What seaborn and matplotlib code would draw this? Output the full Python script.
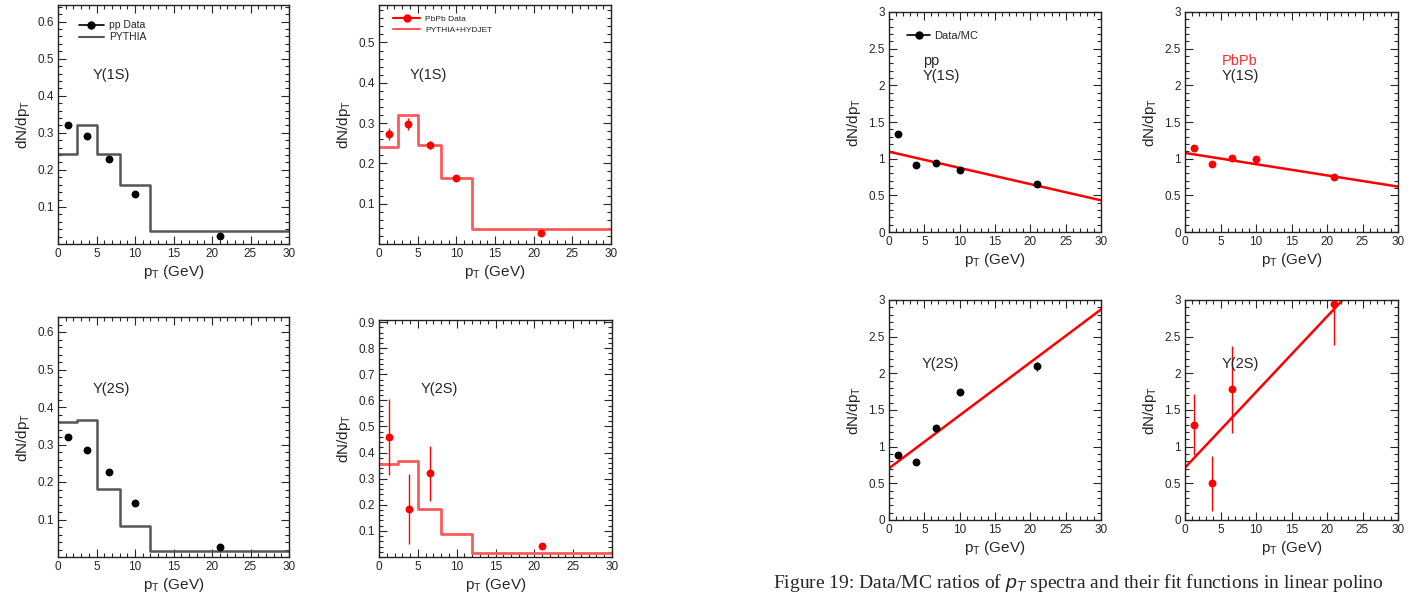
import numpy as np
import pandas as pd
import matplotlib
matplotlib.use("Agg")
import matplotlib.pyplot as plt
from matplotlib.lines import Line2D
from matplotlib.ticker import MultipleLocator, FixedLocator
import seaborn as sns

sns.set_theme(style="ticks")
plt.rcParams["font.family"] = ["Liberation Sans", "DejaVu Sans"]
plt.rcParams["mathtext.fontset"] = "custom"
plt.rcParams["mathtext.rm"] = "Liberation Sans"
plt.rcParams["mathtext.it"] = "Liberation Sans:italic"

# --- data ---
pt_points = [1.3, 3.8, 6.6, 10.0, 21.0]
pt_edges = [0, 2.5, 5, 8, 12, 30]

# spectra (left block)
pp_1s = [0.321, 0.291, 0.229, 0.135, 0.022]
pythia_1s = [0.242, 0.321, 0.243, 0.158, 0.035]
pbpb_1s = [0.272, 0.298, 0.245, 0.163, 0.028]
pbpb_1s_err = [0.015, 0.015, 0.010, 0.006, 0.004]
hydjet_1s = [0.240, 0.321, 0.245, 0.164, 0.038]

pp_2s = [0.320, 0.286, 0.226, 0.143, 0.027]
pythia_2s = [0.359, 0.366, 0.182, 0.082, 0.015]
pbpb_2s = [0.460, 0.183, 0.320, np.nan, 0.042]
pbpb_2s_err = [0.147, 0.135, 0.105, np.nan, 0.004]
hydjet_2s = [0.356, 0.367, 0.183, 0.090, 0.017]

# Data/MC ratios (right block) and linear fit parameters (p0, p1)
ratio_pp_1s = [1.332, 0.910, 0.940, 0.850, 0.650]
ratio_pp_1s_err = [0.02, 0.02, 0.02, 0.02, 0.02]
fit_pp_1s = (1.095, -0.0221)
ratio_pbpb_1s = [1.142, 0.924, 1.010, 0.990, 0.750]
ratio_pbpb_1s_err = [0.04, 0.02, 0.02, 0.02, 0.02]
fit_pbpb_1s = (1.078, -0.0153)
ratio_pp_2s = [0.890, 0.786, 1.260, 1.740, 2.095]
ratio_pp_2s_err = [0.02, 0.02, 0.03, 0.04, 0.06]
fit_pp_2s = (0.705, 0.0722)
ratio_pbpb_2s = [1.30, 0.50, 1.78, np.nan, 2.94]
ratio_pbpb_2s_err = [0.415, 0.375, 0.59, np.nan, 0.56]
fit_pbpb_2s = (0.714, 0.103)

caption = r"Figure 19: Data/MC ratios of $p_T$ spectra and their fit functions in linear polino"

W, H = 1410, 597
RED = "#ff0000"
HRED = "#ff5a5a"
GREY = "#555555"

fig = plt.figure(figsize=(W / 100, H / 100), dpi=100)


def add_ax(x0, y0, x1, y1):
    # pixel box -> figure fraction
    return fig.add_axes([x0 / W, 1 - y1 / H, (x1 - x0) / W, (y1 - y0) / H])


def style(ax, ymax, ymajor, yminor, show_zero):
    ax.set_xlim(0, 30)
    ax.set_ylim(0, ymax)
    ax.xaxis.set_major_locator(MultipleLocator(5))
    ax.xaxis.set_minor_locator(MultipleLocator(1))
    if show_zero:
        ax.yaxis.set_major_locator(MultipleLocator(ymajor))
    else:
        ticks = np.arange(ymajor, ymax, ymajor)
        ax.yaxis.set_major_locator(FixedLocator(ticks))
    ax.yaxis.set_minor_locator(MultipleLocator(yminor))
    ax.yaxis.set_major_formatter(matplotlib.ticker.FuncFormatter(lambda v, p: f"{v:g}"))
    ax.tick_params(which="both", direction="in", top=True, right=True,
                   labelsize=8.5, width=0.8, pad=3)
    ax.tick_params(which="major", length=6)
    ax.tick_params(which="minor", length=3)
    for s in ax.spines.values():
        s.set_linewidth(1.0)
        s.set_color("#222222")
    ax.set_xlabel(r"p$_\mathregular{T}$ (GeV)", fontsize=11, labelpad=2)
    ax.set_ylabel(r"dN/dp$_\mathregular{T}$", fontsize=11, labelpad=4)


def points(ax, y, err, color):
    df = pd.DataFrame({"pt": pt_points, "y": y, "err": err}).dropna()
    ax.errorbar(df["pt"], df["y"], yerr=df["err"], fmt="none",
                ecolor=color, elinewidth=1.0, capsize=0)
    sns.scatterplot(data=df, x="pt", y="y", ax=ax, color=color, s=32,
                    edgecolor=color, linewidth=0, zorder=5)


def hist(ax, vals, color, lw):
    sns.lineplot(x=pt_edges, y=list(vals) + [vals[-1]], ax=ax, color=color,
                 lw=lw, drawstyle="steps-post", estimator=None, sort=False)


def fit(ax, par):
    xs = [0, 30]
    sns.lineplot(x=xs, y=[par[0] + par[1] * v for v in xs], ax=ax,
                 color=RED, lw=1.8, estimator=None, sort=False)


zero_err = [0] * 5

# panel 1: pp 1S
ax = add_ax(58, 5, 289, 244)
hist(ax, pythia_1s, GREY, 1.8)
points(ax, pp_1s, zero_err, "black")
style(ax, 0.645, 0.1, 0.02, False)
ax.text(4.5, 0.455, "Υ(1S)", fontsize=10.5, va="center")
ax.legend(handles=[Line2D([], [], color="black", marker="o", ms=5, lw=1.2),
                   Line2D([], [], color=GREY, lw=1.5)],
          labels=["pp Data", "PYTHIA"], loc="upper left",
          bbox_to_anchor=(0.05, 0.975), frameon=False, fontsize=7.5,
          handlelength=2.4, labelspacing=0.2, handletextpad=0.5)

# panel 2: PbPb 1S
ax = add_ax(379, 5, 611, 244)
hist(ax, hydjet_1s, HRED, 2.0)
points(ax, pbpb_1s, pbpb_1s_err, RED)
style(ax, 0.593, 0.1, 0.02, False)
ax.text(4.0, 0.42, "Υ(1S)", fontsize=10.5, va="center")
ax.legend(handles=[Line2D([], [], color=RED, marker="o", ms=5, lw=1.5),
                   Line2D([], [], color=HRED, lw=1.5)],
          labels=["PbPb Data", "PYTHIA+HYDJET"], loc="upper left",
          bbox_to_anchor=(0.03, 0.99), frameon=False, fontsize=6,
          handlelength=3.2, labelspacing=0.4, handletextpad=0.6)

# panel 3: pp 2S
ax = add_ax(58, 317, 289, 557)
hist(ax, pythia_2s, GREY, 1.8)
points(ax, pp_2s, zero_err, "black")
style(ax, 0.64, 0.1, 0.02, False)
ax.text(4.5, 0.448, "Υ(2S)", fontsize=10.5, va="center")

# panel 4: PbPb 2S
ax = add_ax(379, 320, 612, 557)
hist(ax, hydjet_2s, HRED, 2.0)
points(ax, pbpb_2s, pbpb_2s_err, RED)
style(ax, 0.908, 0.1, 0.02, False)
ax.text(5.3, 0.643, "Υ(2S)", fontsize=10.5, va="center")

# panel 5: pp ratio 1S
ax = add_ax(889, 12, 1101, 232)
fit(ax, fit_pp_1s)
points(ax, ratio_pp_1s, ratio_pp_1s_err, "black")
style(ax, 3, 0.5, 0.1, True)
ax.text(4.8, 2.33, "pp", fontsize=10.5, va="center")
ax.text(4.8, 2.13, "Υ(1S)", fontsize=10.5, va="center")
ax.legend(handles=[Line2D([], [], color="black", marker="o", ms=5, lw=1.2)],
          labels=["Data/MC"], loc="upper left", bbox_to_anchor=(0.04, 0.96),
          frameon=False, fontsize=8, handlelength=2.0, handletextpad=0.4)

# panel 6: PbPb ratio 1S
ax = add_ax(1185, 12, 1398, 232)
fit(ax, fit_pbpb_1s)
points(ax, ratio_pbpb_1s, ratio_pbpb_1s_err, RED)
style(ax, 3, 0.5, 0.1, True)
ax.text(5.2, 2.33, "PbPb", fontsize=10.5, va="center", color="#ff2a2a")
ax.text(5.2, 2.13, "Υ(1S)", fontsize=10.5, va="center")

# panel 7: pp ratio 2S
ax = add_ax(889, 300, 1101, 520)
fit(ax, fit_pp_2s)
points(ax, ratio_pp_2s, ratio_pp_2s_err, "black")
style(ax, 3, 0.5, 0.1, True)
ax.text(4.6, 2.13, "Υ(2S)", fontsize=10.5, va="center")

# panel 8: PbPb ratio 2S
ax = add_ax(1185, 300, 1398, 520)
fit(ax, fit_pbpb_2s)
points(ax, ratio_pbpb_2s, ratio_pbpb_2s_err, RED)
style(ax, 3, 0.5, 0.1, True)
ax.text(5.2, 2.13, "Υ(2S)", fontsize=10.5, va="center")

fig.text(773 / W, 1 - 583 / H, caption, fontsize=14,
         family="Liberation Serif", va="center", ha="left")

fig.savefig("out.png", dpi=100)
